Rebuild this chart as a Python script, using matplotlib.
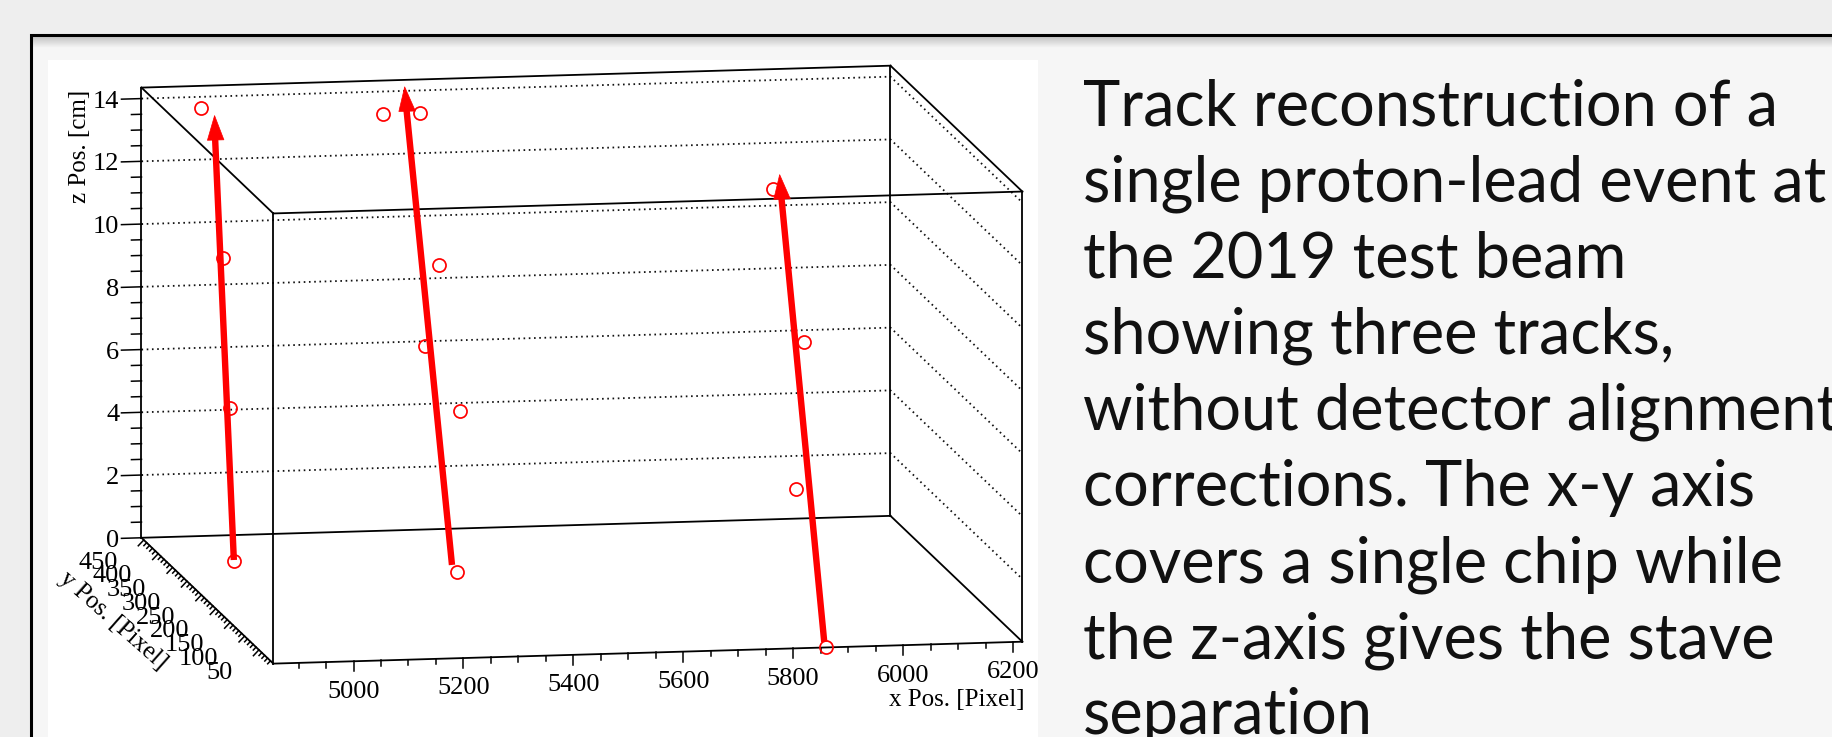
import matplotlib
matplotlib.use("Agg")
import matplotlib.pyplot as plt
import numpy as np
from matplotlib.patches import Rectangle
from mpl_toolkits.mplot3d.art3d import Poly3DCollection

# --- Hits on the staves: x, y in pixel, z in cm ---
hit_x = [4921, 4960, 4974, 4975, 5232, 5299, 5329, 5154, 5372, 5349, 5781, 5831, 5823, 5861]
hit_y = [380, 378, 378, 367, 340, 340, 330, 47, 342, 306, 33, 20, 33, 2]
hit_z = [14.35, 9.57, 4.78, 0.0, 14.35, 14.35, 9.57, 9.57, 4.78, 0.0, 14.35, 9.57, 4.78, 0.0]

# --- Fitted tracks (start -> end) ---
trk_x0 = [4976, 5352, 5867]
trk_y0 = [370, 330, 20]
trk_z0 = [0.0, 0.0, 0.0]
trk_x1 = [4940, 5265, 5785]
trk_y1 = [370, 330, 20]
trk_z1 = [14.2, 15.3, 14.95]

# --- Frame and axes ---
x_lim = (4854, 6217)
y_lim = (0, 458)
z_lim = (0, 14.35)
x_labels = [5000, 5200, 5400, 5600, 5800, 6000, 6200]
y_labels = [50, 100, 150, 200, 250, 300, 350, 400, 450]
z_labels = [0, 2, 4, 6, 8, 10, 12, 14]
x_minor = np.arange(4900, 6201, 50)
y_minor = np.arange(10, 451, 10)
z_minor = np.arange(0, 14.01, 0.5)

caption = [
    "Track reconstruction of a",
    "single proton-lead event at",
    "the 2019 test beam",
    "showing three tracks,",
    "without detector alignment",
    "corrections. The x-y axis",
    "covers a single chip while",
    "the z-axis gives the stave",
    "separation",
]

W, H = 1833, 737
fig = plt.figure(figsize=(W / 100, H / 100), dpi=100)

# --- slide background (pixel coordinates, y down) ---
bg = fig.add_axes([0, 0, 1, 1], zorder=0)
bg.add_patch(Rectangle((0, 0), W, H, facecolor='#eeeeee', lw=0))
bg.add_patch(Rectangle((31, 35), W, H, facecolor='#f6f6f6', edgecolor='black', lw=2.2, zorder=2))
shade = np.zeros((24, 2, 4))
shade[..., 3] = np.linspace(0.22, 0.0, 24)[:, None]
bg.imshow(shade, extent=(32, W, 48, 36.5), aspect='auto', interpolation='bilinear', zorder=3)
bg.add_patch(Rectangle((48, 60), 990, H, facecolor='white', lw=0, zorder=4))
bg.set_xlim(0, W)
bg.set_ylim(H, 0)
bg.set_axis_off()

# --- 3D frame, orthographic view ---
side = 1100.0
cx, cy = 581.9, 372.35          # centre of the projected box, pixels from bottom-left
left = cx - 0.095 / 0.185 * side
bottom = cy - 0.095 / 0.185 * side
ax = fig.add_axes([left / W, bottom / H, side / W, side / H], projection='3d',
                  proj_type='ortho', computed_zorder=False, zorder=1)
ax.set_axis_off()
ax.set_facecolor('none')
ax.view_init(elev=9.62, azim=-99.93)
box_px = np.array([760.4, 764.5, 456.6])   # edge lengths on screen
zoom = np.linalg.norm(box_px) / (side / 1.85) / (1.8294640721620434 * 25 / 24)
ax.set_box_aspect(box_px, zoom=zoom)
ax.set_xlim(*x_lim)
ax.set_ylim(*y_lim)
ax.set_zlim(*z_lim)

x0, x1 = x_lim
y0, y1 = y_lim
z0, z1 = z_lim
serif = dict(family='Liberation Serif', fontsize=19, color='black')
title_font = dict(family='Liberation Serif', fontsize=18, color='black')

# box edges
edges = []
for y in (y0, y1):
    for z in (z0, z1):
        edges.append(((x0, x1), (y, y), (z, z)))
for x in (x0, x1):
    for z in (z0, z1):
        edges.append(((x, x), (y0, y1), (z, z)))
for x in (x0, x1):
    for y in (y0, y1):
        edges.append(((x, x), (y, y), (z0, z1)))
for xs, ys, zs in edges:
    ax.plot(xs, ys, zs, color='black', lw=1.3, zorder=2)

# dotted z grid on back and right walls
for z in z_labels[1:]:
    ax.plot([x0, x1, x1], [y1, y1, y0], [z, z, z], color='#111111', lw=1.3,
            ls=(0, (0.9, 2.0)), zorder=1)

# ticks
for v in x_minor:
    L = 0.32 if v in x_labels else 0.175
    ax.plot([v, v], [y0, y0], [z0, z0 - L], color='black', lw=1.1, zorder=2)
for v in z_minor:
    L = 36.4 if abs(v - round(v / 2) * 2) < 1e-6 else 18.2
    ax.plot([x0, x0 - L], [y1, y1], [v, v], color='black', lw=1.1, zorder=2)
for v in y_minor:
    dx, dz = (10.0, 0.18) if v % 50 == 0 else (5.0, 0.09)
    ax.plot([x0, x0 - dx], [v, v], [z0, z0 - dz], color='black', lw=1.1, zorder=2)

# tick labels
for v in x_labels:
    ax.text(v, y0, z0 - 1.16, str(v), ha='center', va='baseline', **serif)
for v in z_labels:
    ax.text(x0 - 40, y1, v - 0.27, str(v), ha='right', va='baseline', **serif)
for v in y_labels:
    ax.text(x0 - 48, v, z0 - 0.89, str(v), ha='right', va='baseline', **serif)

# axis titles; zdir gives the on-screen direction of the text
ax.text(x1 + 4, y0, z0 - 2.05, 'x Pos. [Pixel]', ha='right', va='baseline', **title_font)
ax.text(x0 - 171, (y0 + y1) / 2, z0 - 0.54, 'y Pos. [Pixel]', zdir=(0.04, -1, 0),
        ha='center', va='center', **title_font)
ax.text(x0 - 111, y1, z1, 'z Pos. [cm]', zdir='z', ha='center', va='top', **title_font)

# hits
ax.plot(hit_x, hit_y, hit_z, ls='none', marker='o', ms=9.4, mfc='none', mec='red',
        mew=1.25, zorder=4)

# track arrows
head_len, head_hw = 0.78, 15.0
for i in range(len(trk_x0)):
    p0 = np.array([trk_x0[i], trk_y0[i], trk_z0[i]], dtype=float)
    p1 = np.array([trk_x1[i], trk_y1[i], trk_z1[i]], dtype=float)
    base = p1 - (p1 - p0) * head_len / (p1[2] - p0[2])
    ax.plot([p0[0], base[0]], [p0[1], base[1]], [p0[2], base[2]], color='red', lw=4.6,
            solid_capstyle='butt', zorder=5)
    tri = [[(base[0] - head_hw, base[1], base[2]), (base[0] + head_hw, base[1], base[2]),
            tuple(p1)]]
    ax.add_collection3d(Poly3DCollection(tri, facecolor='red', edgecolor='red', lw=0.5,
                                         zorder=5))

ax.set_xlim(*x_lim)
ax.set_ylim(*y_lim)
ax.set_zlim(*z_lim)

# --- caption ---
for i, line in enumerate(caption):
    fig.text(1083 / W, 1 - (125.5 + 76.1 * i) / H, line, fontsize=45.4, family='Lato',
             color='#111111', ha='left', va='baseline', zorder=5)

fig.savefig('out.png', dpi=100)
